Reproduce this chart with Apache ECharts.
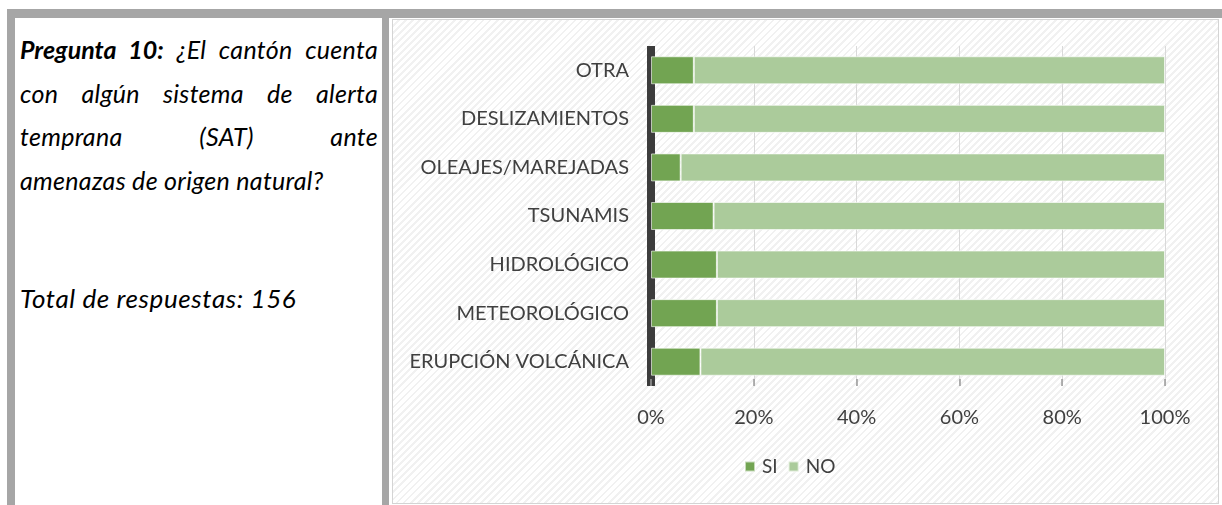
<!DOCTYPE html>
<html>
<head>
<meta charset="utf-8">
<script src="https://cdn.jsdelivr.net/npm/echarts@6/dist/echarts.min.js"></script>
<style>
  html, body { margin: 0; padding: 0; background: #fff; }
  body { width: 1222px; height: 505px; position: relative; overflow: hidden; }
  .frame-top { position: absolute; left: 7px; top: 9px; width: 1215px; height: 9px; background: #a6a6a6; }
  .frame-left { position: absolute; left: 7px; top: 9px; width: 8px; height: 496px; background: #a6a6a6; }
  .frame-mid { position: absolute; left: 382px; top: 9px; width: 7px; height: 496px; background: #a6a6a6; }
  .question {
    position: absolute; left: 20px; top: 28px; width: 358px;
    font-family: Lato, "Open Sans", sans-serif; font-style: italic; font-size: 25px;
    letter-spacing: 0.3px; line-height: 43.5px; color: #000;
  }
  .question .j { text-align: justify; text-align-last: justify; }
  .question b { letter-spacing: 0; }
  .total {
    position: absolute; left: 20px; top: 282px;
    font-family: Lato, "Open Sans", sans-serif; font-style: italic; font-size: 26px;
    letter-spacing: 0.6px; color: #000;
  }
  #chart {
    position: absolute; left: 392px; top: 19px; width: 825px; height: 483px;
    border: 1px solid #d4d4d4;
    background: repeating-linear-gradient(135deg, #ffffff 0px, #ffffff 3px, #f1f1f1 3px, #f1f1f1 5px);
  }
</style>
</head>
<body>
<div class="frame-top"></div>
<div class="frame-left"></div>
<div class="frame-mid"></div>
<div class="question">
  <div class="j"><b>Pregunta 10:</b> ¿El cantón cuenta</div>
  <div class="j">con algún sistema de alerta</div>
  <div class="j">temprana (SAT) ante</div>
  <div>amenazas de origen natural?</div>
</div>
<div class="total">Total de respuestas: 156</div>
<div id="chart"></div>
<script>
// categories top to bottom
const categories = ['OTRA', 'DESLIZAMIENTOS', 'OLEAJES/MAREJADAS', 'TSUNAMIS', 'HIDROLÓGICO', 'METEOROLÓGICO', 'ERUPCIÓN VOLCÁNICA']
// respuestas (total 156)
const siCounts = [13, 13, 9, 19, 20, 20, 15]
const noCounts = [143, 143, 147, 137, 136, 136, 141]
const xTicks = [0, 20, 40, 60, 80, 100]

const pct = (a, i) => +(a[i] / (siCounts[i] + noCounts[i]) * 100).toFixed(2)
const siPct = siCounts.map((_, i) => pct(siCounts, i))
const noPct = noCounts.map((_, i) => pct(noCounts, i))

const labelFont = { fontFamily: 'Lato, "Open Sans", sans-serif', fontSize: 20, color: '#404040' }

const chart = echarts.init(document.getElementById('chart'))
chart.setOption({
  backgroundColor: 'transparent',
  animation: false,
  grid: { left: 258, right: 53, top: 26, bottom: 117, containLabel: false },
  legend: {
    data: ['SI', 'NO'],
    bottom: 22, left: 346,
    itemWidth: 10, itemHeight: 10, itemGap: 10,
    icon: 'rect',
    textStyle: { ...labelFont, fontSize: 19, padding: [0, 0, 0, 2] }
  },
  xAxis: {
    type: 'value', min: xTicks[0], max: xTicks[xTicks.length - 1], interval: 20,
    axisLine: { show: false },
    axisTick: { show: true, inside: true, length: 7, lineStyle: { color: '#9a9a9a', width: 1.5 } },
    axisLabel: { ...labelFont, margin: 22, formatter: '{value}%' },
    splitLine: { show: true, lineStyle: { color: '#d9d9d9', width: 1 } }
  },
  yAxis: {
    type: 'category', inverse: true, data: categories,
    axisLine: { show: true, lineStyle: { color: '#3c3c3c', width: 8, cap: 'butt' } },
    axisTick: { show: false },
    axisLabel: { ...labelFont, margin: 22 }
  },
  series: [
    {
      name: 'SI', type: 'bar', stack: 'total', barWidth: 28,
      data: siPct,
      itemStyle: { color: '#72a452', borderColor: 'rgba(255,255,255,0.6)', borderWidth: 1 }
    },
    {
      name: 'NO', type: 'bar', stack: 'total', barWidth: 28,
      data: noPct,
      itemStyle: { color: '#abcb9b', borderColor: 'rgba(255,255,255,0.6)', borderWidth: 1 }
    }
  ]
})
</script>
</body>
</html>
